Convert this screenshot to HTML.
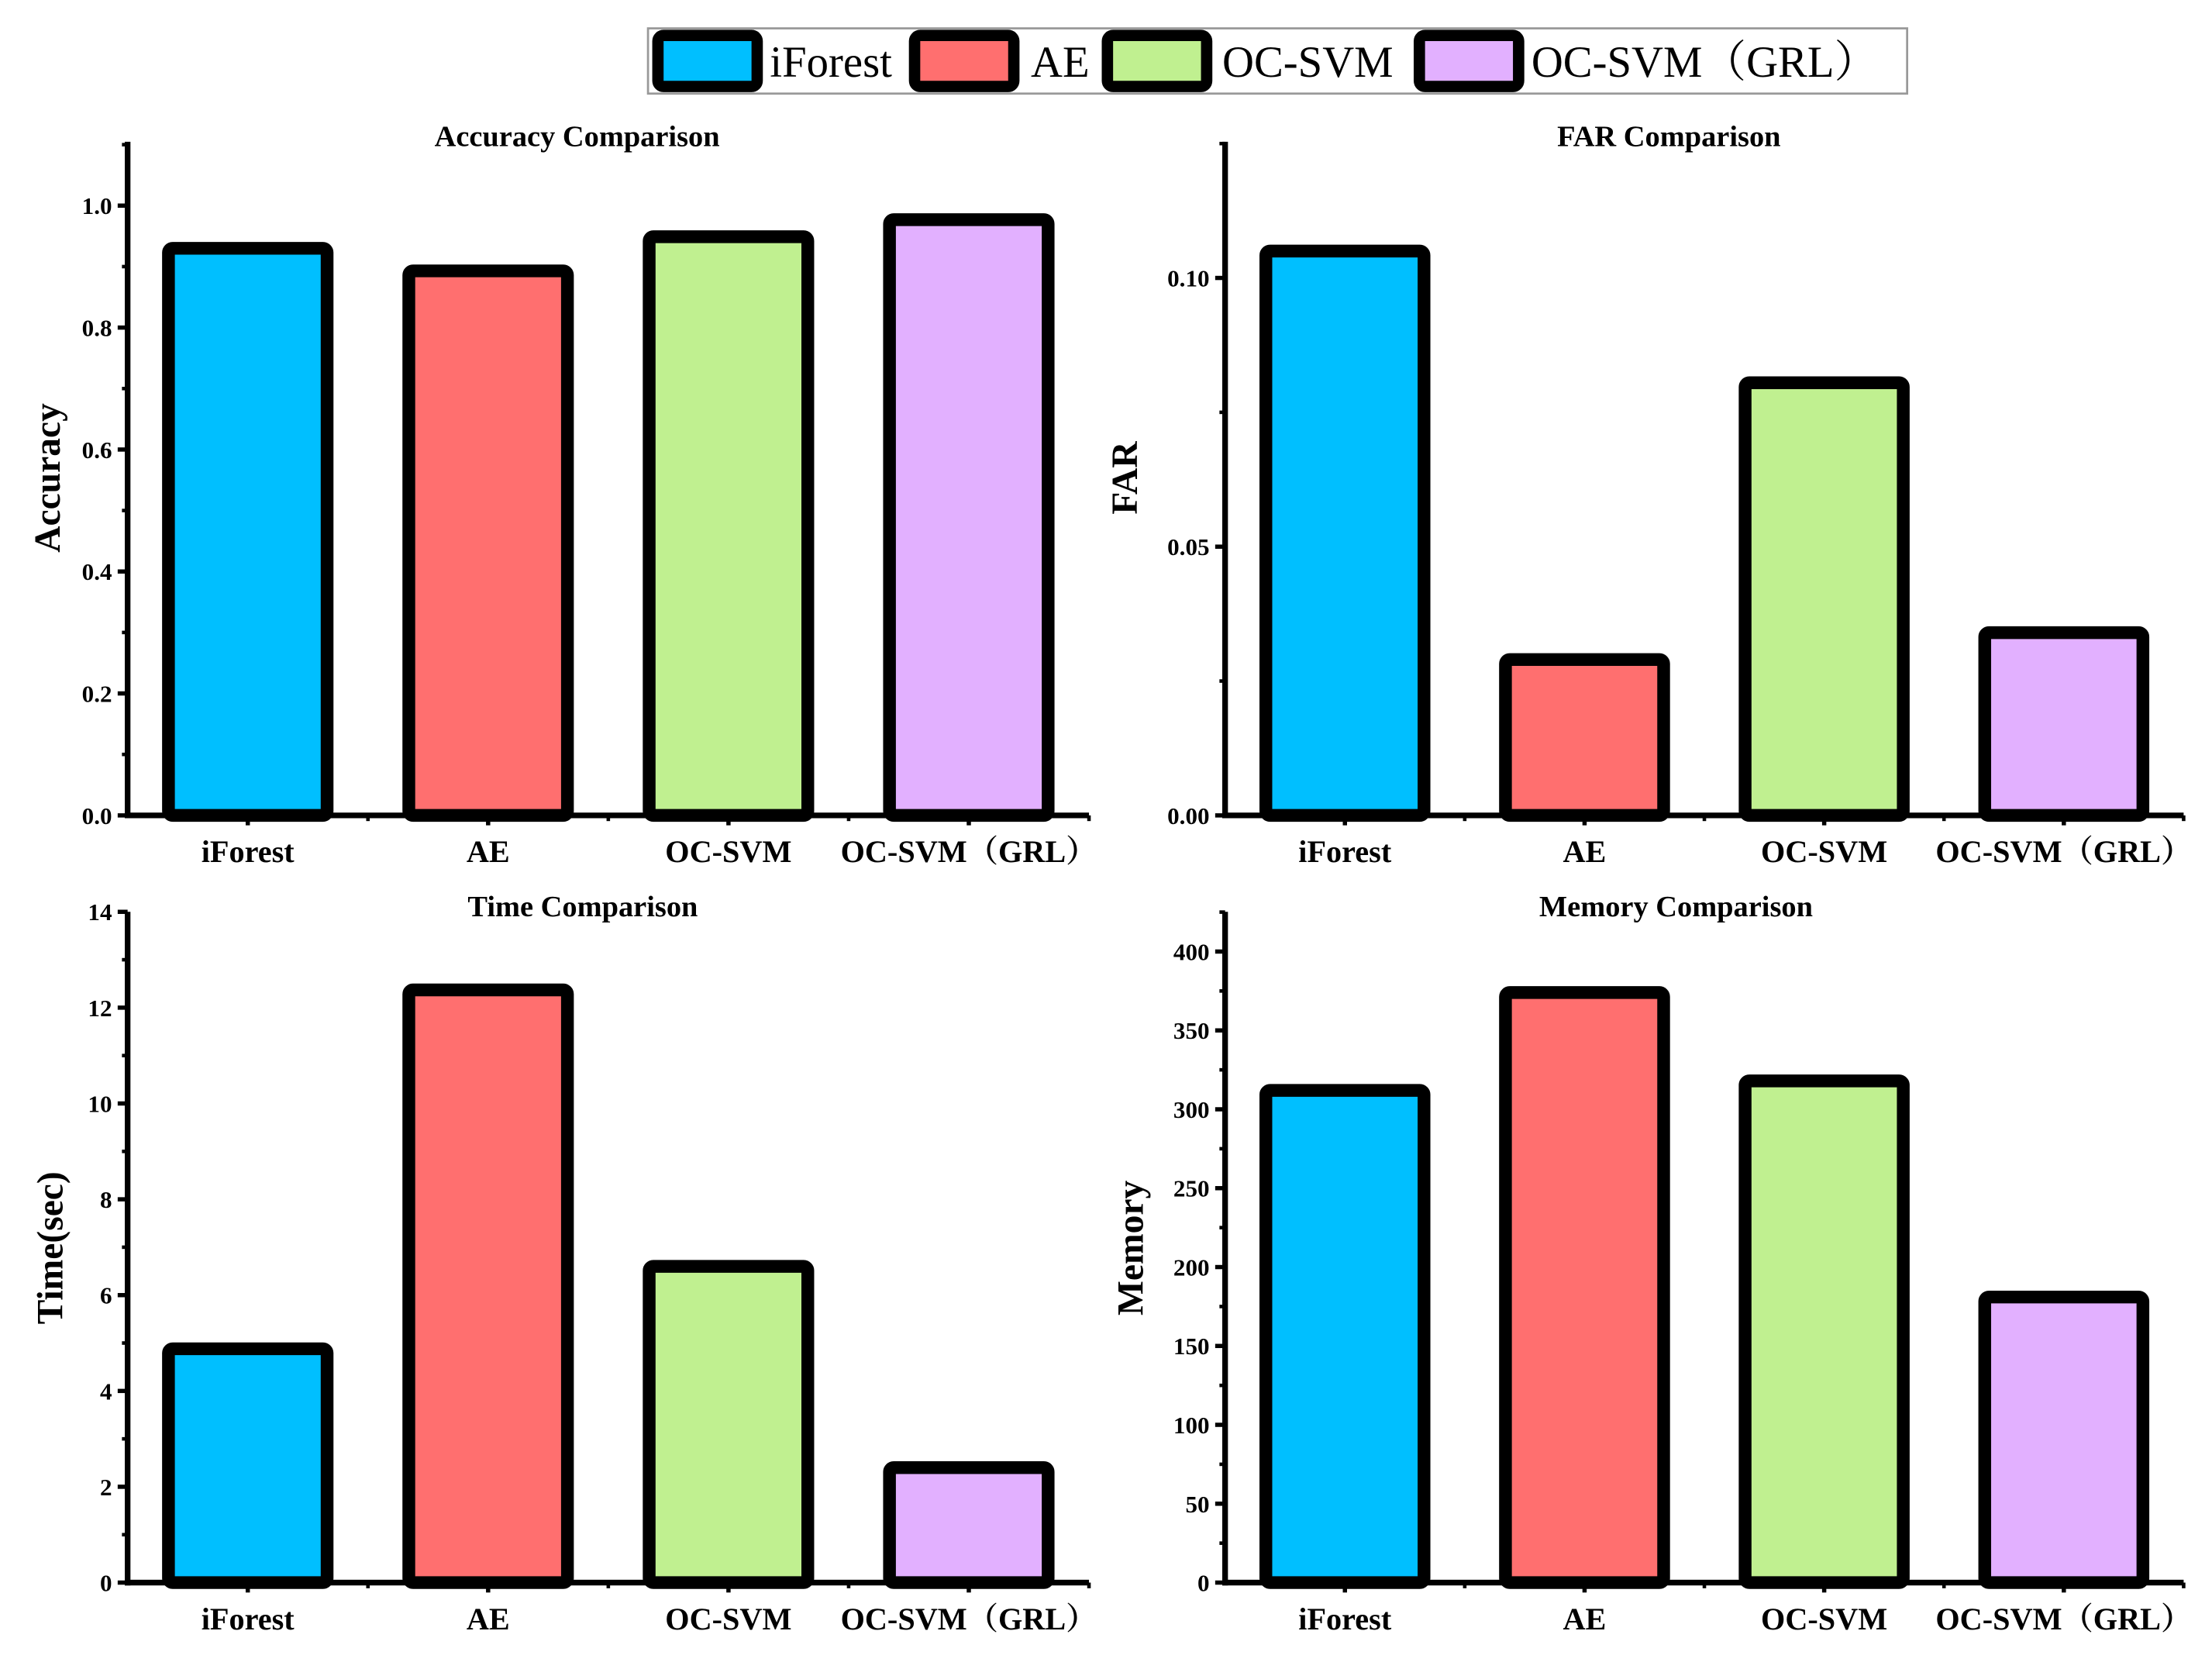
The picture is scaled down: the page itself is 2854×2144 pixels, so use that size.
<!DOCTYPE html>
<html><head><meta charset="utf-8"><style>
html,body{margin:0;padding:0;background:#fff;}
svg{display:block;font-family:"Liberation Serif","Noto Serif CJK SC",serif;}
</style></head><body>
<svg id="chart" width="2854" height="2144" viewBox="0 0 1560 1172" preserveAspectRatio="none" xmlns="http://www.w3.org/2000/svg">
<g id="legend">
  <rect x="457" y="20" width="888" height="46" fill="#fff" stroke="#999" stroke-width="1.5"/>
</g>
</svg>
<script>
const categories = ["iForest", "AE", "OC-SVM", "OC-SVM（GRL）"];
const colors = ["#00BFFF", "#FF6F6F", "#C0F090", "#E2B0FF"];
const accuracyValues = [0.93, 0.893, 0.949, 0.977];
const accuracyTicks = ["0.0", "0.2", "0.4", "0.6", "0.8", "1.0"];
const farValues = [0.105, 0.029, 0.0805, 0.034];
const farTicks = ["0.00", "0.05", "0.10"];
const timeValues = [4.88, 12.37, 6.6, 2.4];
const timeTicks = ["0", "2", "4", "6", "8", "10", "12", "14"];
const memoryValues = [312, 374, 318, 181];
const memoryTicks = ["0", "50", "100", "150", "200", "250", "300", "350", "400"];

const NS = "http://www.w3.org/2000/svg";
const svg = document.getElementById("chart");
function mk(tag, attrs, parent) {
  const e = document.createElementNS(NS, tag);
  for (const k in attrs) e.setAttribute(k, attrs[k]);
  (parent || svg).appendChild(e);
  return e;
}

const legend = document.getElementById("legend");
const legSw = [460, 641, 777, 997];
const legTx = [543, 727, 862, 1080];
categories.forEach((c, i) => {
  const r = mk("rect", {x: legSw[i] + 4, y: 25, width: 70, height: 36, rx: 4, fill: colors[i], stroke: "#000", "stroke-width": 8}, legend);
  
  
  const t = mk("text", {x: legTx[i], y: 54, "font-size": 31, fill: "#000"}, legend);
  t.textContent = c;
  
  
});

function panel(cfg) {
  const g = mk("g", {});
  
  
  const {x0, x1, yTop, y0, vMax, pMax, values, ticks} = cfg;
  const y = v => y0 - (v / vMax) * (y0 - pMax);
  const band = (x1 - x0) / categories.length;
  const xc = i => x0 + band * (i + 0.5);
  values.forEach((v, i) => {
    const w = band * 0.66;
    const b = mk("rect", {x: xc(i) - w / 2, y: y(v), width: w, height: y0 - y(v), rx: 3, fill: colors[i], stroke: "#000", "stroke-width": 9, "stroke-linejoin": "round"}, g);
    
    
  });
  const ya = mk("line", {x1: x0, y1: yTop, x2: x0, y2: y0 + 2, stroke: "#000", "stroke-width": 4}, g);
  
  
  const xa = mk("line", {x1: x0 - 2, y1: y0, x2: x1, y2: y0, stroke: "#000", "stroke-width": 4}, g);
  
  
  ticks.forEach((t, k) => {
    const v = parseFloat(t);
    const yy = y(v);
    mk("line", {x1: x0 - 7, y1: yy, x2: x0, y2: yy, stroke: "#000", "stroke-width": 3}, g);
    if (k < ticks.length - 1) {
      const vm = (v + parseFloat(ticks[k + 1])) / 2;
      mk("line", {x1: x0 - 4, y1: y(vm), x2: x0, y2: y(vm), stroke: "#000", "stroke-width": 2.5}, g);
    }
    const tl = mk("text", {x: x0 - 11, y: yy + 6, "font-size": 17, "font-weight": "bold", "text-anchor": "end"}, g);
    tl.textContent = t;
    
    
  });
  const lastV = parseFloat(ticks[ticks.length - 1]);
  const step = lastV - parseFloat(ticks[ticks.length - 2]);
  if (y(lastV + step / 2) > yTop) mk("line", {x1: x0 - 4, y1: y(lastV + step / 2), x2: x0, y2: y(lastV + step / 2), stroke: "#000", "stroke-width": 2.5}, g);
  categories.forEach((c, i) => {
    mk("line", {x1: xc(i), y1: y0, x2: xc(i), y2: y0 + 7, stroke: "#000", "stroke-width": 3}, g);
    mk("line", {x1: x0 + band * (i + 1), y1: y0, x2: x0 + band * (i + 1), y2: y0 + 4, stroke: "#000", "stroke-width": 2.5}, g);
    const xl = mk("text", {x: xc(i), y: y0 + 33, "font-size": 22, "font-weight": "bold", "text-anchor": "middle"}, g);
    xl.textContent = c;
    
    
  });
  const ti = mk("text", {x: cfg.titleX, y: yTop + 3, "font-size": 21, "font-weight": "bold", "text-anchor": "middle"}, g);
  ti.textContent = cfg.title;
  
  
  const yl = mk("text", {x: 0, y: 0, "font-size": 26, "font-weight": "bold", "text-anchor": "middle", transform: `translate(${cfg.ylX},${cfg.ylY}) rotate(-90)`}, g);
  yl.textContent = cfg.ylabel;
  
  
}

panel({name: "accuracy-panel", title: "Accuracy Comparison", titleX: 407, ylabel: "Accuracy", ylX: 42, ylY: 337,
  x0: 90, x1: 768, yTop: 100, y0: 575, vMax: 1.0, pMax: 145, values: accuracyValues, ticks: accuracyTicks});
panel({name: "far-panel", title: "FAR Comparison", titleX: 1177, ylabel: "FAR", ylX: 802, ylY: 337,
  x0: 864, x1: 1540, yTop: 100, y0: 575, vMax: 0.10, pMax: 196, values: farValues, ticks: farTicks});
panel({name: "time-panel", title: "Time Comparison", titleX: 411, ylabel: "Time(sec)", ylX: 44, ylY: 880,
  x0: 90, x1: 768, yTop: 643, y0: 1116, vMax: 14, pMax: 643, values: timeValues, ticks: timeTicks});
panel({name: "memory-panel", title: "Memory Comparison", titleX: 1182, ylabel: "Memory", ylX: 806, ylY: 880,
  x0: 864, x1: 1540, yTop: 643, y0: 1116, vMax: 400, pMax: 671, values: memoryValues, ticks: memoryTicks});
</script>
</body></html>
